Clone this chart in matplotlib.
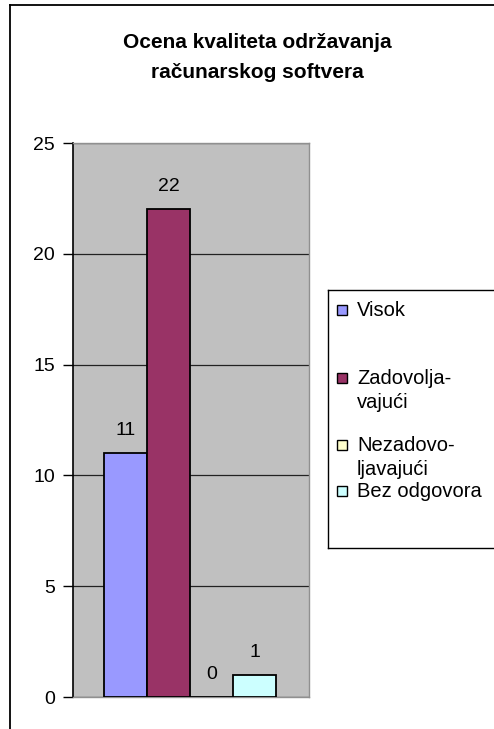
import matplotlib.pyplot as plt
from matplotlib.patches import Rectangle
from matplotlib.lines import Line2D

title = "Ocena kvaliteta održavanja\nračunarskog softvera"
categories = ["Visok", "Zadovolja-\nvajući", "Nezadovo-\nljavajući", "Bez odgovora"]
values = [11, 22, 0, 1]
colors = ["#9999FF", "#993366", "#FFFFCC", "#CCFFFF"]
yticks = [0, 5, 10, 15, 20, 25]

W, H = 494, 729
plt.rcParams['font.family'] = ['Liberation Sans', 'DejaVu Sans']

fig = plt.figure(figsize=(W / 100, H / 100), dpi=100)

def fx(px):
    return px / W

def fy(py):
    return 1 - py / H

# outer chart frame (only left and top show in the crop)
fig.add_artist(Line2D([fx(10), fx(10)], [fy(5), 0], color="black", lw=1.3))
fig.add_artist(Line2D([fx(10), 1], [fy(5), fy(5)], color="black", lw=1.3))

ax = fig.add_axes([fx(73), fy(697), fx(309) - fx(73), fy(143) - fy(697)])
ax.set_facecolor("#C0C0C0")
ax.set_axisbelow(True)
ax.yaxis.grid(True, color="#222222", lw=0.9)

xs = list(range(len(values)))
bars = ax.bar(xs, values, width=1.0, color=colors, edgecolor="black", linewidth=1.3, zorder=3)
for x, v in zip(xs, values):
    ax.annotate(str(v), (x, v), xytext=(0, 18), textcoords="offset pixels",
                ha="center", va="baseline", fontsize=14)

ax.set_xlim(-1.22, 4.26)
ax.set_ylim(0, 25)
ax.set_yticks(yticks)
ax.set_xticks([])
ax.tick_params(axis="y", direction="out", length=7, width=1, labelsize=14, pad=6)
ax.spines["left"].set_color("black")
ax.spines["left"].set_linewidth(1.2)
for s in ["top", "right", "bottom"]:
    ax.spines[s].set_color("#909090")
    ax.spines[s].set_linewidth(1)

# title, one line at a time so the baselines land where they should
for i, line in enumerate(title.split("\n")):
    fig.text(fx(257), fy(48 + 30 * i), line, ha="center", va="baseline",
             fontsize=15, fontweight="bold")

# legend box, runs off the right edge
lg_top, lg_bot, lg_left = 290, 548, 328
fig.add_artist(Line2D([fx(lg_left), 1], [fy(lg_top), fy(lg_top)], color="black", lw=1))
fig.add_artist(Line2D([fx(lg_left), 1], [fy(lg_bot), fy(lg_bot)], color="black", lw=1))
fig.add_artist(Line2D([fx(lg_left), fx(lg_left)], [fy(lg_top), fy(lg_bot)], color="black", lw=1))

baselines = [316, 384, 451, 497]
for lab, c, b in zip(categories, colors, baselines):
    fig.add_artist(Rectangle((fx(337), fy(b - 1)), fx(10), fy(0) - fy(10),
                             facecolor=c, edgecolor="black", lw=1))
    for i, line in enumerate(lab.split("\n")):
        fig.text(fx(357), fy(b + 24 * i), line, ha="left", va="baseline", fontsize=14.5)

fig.savefig("out.png", dpi=100)
